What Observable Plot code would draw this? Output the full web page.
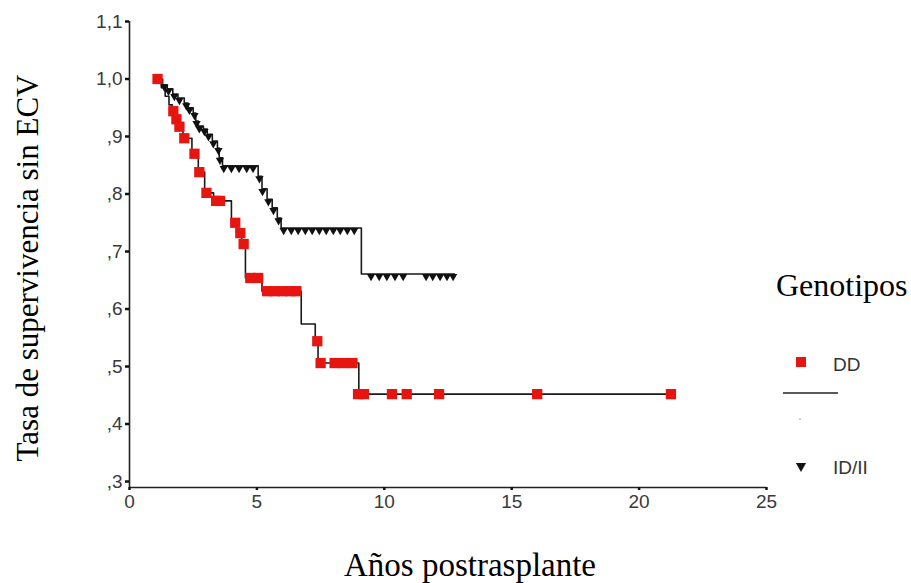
<!DOCTYPE html>
<html>
<head>
<meta charset="utf-8">
<script src="https://cdn.jsdelivr.net/npm/d3@7"></script>
<script src="https://cdn.jsdelivr.net/npm/@observablehq/plot@0.6"></script>
<style>
  html, body { margin: 0; padding: 0; background: #fff; }
  #chart { width: 911px; height: 583px; }
  #chart svg g[aria-label="y-axis tick label"],
  #chart svg g[aria-label="x-axis tick label"] { font-size: 19px; fill: #3a3a3a; }
</style>
</head>
<body>
<div id="chart"></div>
<script>
// ---- Data ----
const genotypes = ["DD", "ID/II"];
const seriesColors = ["#e6150f", "#111111"];

// Kaplan-Meier step curve, DD
const ddStepT = [1.1, 1.25, 1.4, 1.55, 1.68, 1.8, 1.92, 2.1, 2.45, 2.7, 2.95, 3.3, 4.0, 4.2, 4.4, 4.55, 5.2, 6.74, 7.29, 7.4, 9.0, 21.3];
const ddStepS = [1.0, 0.985, 0.97, 0.955, 0.944, 0.930, 0.917, 0.897, 0.870, 0.838, 0.802, 0.788, 0.750, 0.732, 0.713, 0.654, 0.631, 0.574, 0.544, 0.506, 0.452, 0.452];
// DD markers (squares)
const ddMarkT = [1.1, 1.72, 1.84, 1.96, 2.15, 2.55, 2.74, 3.02, 3.4, 3.55, 4.15, 4.35, 4.48, 4.74, 5.05, 5.4, 5.7, 6.0, 6.3, 6.55, 7.37, 7.5, 8.05, 8.4, 8.75, 8.97, 9.2, 10.3, 10.88, 12.15, 16.0, 21.25];
const ddMarkS = [1.0, 0.944, 0.930, 0.917, 0.897, 0.870, 0.838, 0.802, 0.788, 0.788, 0.750, 0.732, 0.713, 0.654, 0.654, 0.631, 0.631, 0.631, 0.631, 0.631, 0.544, 0.506, 0.506, 0.506, 0.506, 0.452, 0.452, 0.452, 0.452, 0.452, 0.452, 0.452];

// Kaplan-Meier step curve, ID/II
const idStepT = [1.1, 1.3, 1.48, 1.7, 1.9, 2.15, 2.3, 2.5, 2.6, 2.7, 2.9, 3.05, 3.25, 3.45, 3.52, 3.65, 5.05, 5.2, 5.4, 5.6, 5.8, 5.95, 9.1, 12.75];
const idStepS = [1.0, 0.99, 0.983, 0.974, 0.967, 0.958, 0.95, 0.941, 0.927, 0.918, 0.913, 0.904, 0.892, 0.88, 0.863, 0.849, 0.831, 0.809, 0.791, 0.776, 0.758, 0.741, 0.661, 0.661];
// ID/II markers (triangles)
const idMarkT = [1.37, 1.53, 1.76, 1.96, 2.23, 2.35, 2.55, 2.63, 2.74, 2.94, 3.1, 3.29, 3.49, 3.55, 3.7, 4.0, 4.3, 4.6, 4.85, 5.1, 5.22, 5.45, 5.65, 5.85, 6.05, 6.35, 6.62, 6.9, 7.17, 7.45, 7.72, 8.0, 8.27, 8.55, 8.82, 9.48, 9.8, 10.1, 10.42, 10.74, 11.64, 11.9, 12.19, 12.46, 12.7];
const idMarkS = [0.99, 0.983, 0.974, 0.967, 0.958, 0.95, 0.941, 0.927, 0.918, 0.913, 0.904, 0.892, 0.88, 0.863, 0.849, 0.849, 0.849, 0.849, 0.849, 0.831, 0.809, 0.791, 0.776, 0.758, 0.741, 0.741, 0.741, 0.741, 0.741, 0.741, 0.741, 0.741, 0.741, 0.741, 0.741, 0.661, 0.661, 0.661, 0.661, 0.661, 0.661, 0.661, 0.661, 0.661, 0.661];

// Axes
const xTicks = [0, 5, 10, 15, 20, 25];
const xTickLabels = ["0", "5", "10", "15", "20", "25"];
const yTicks = [1.1, 1.0, 0.9, 0.8, 0.7, 0.6, 0.5, 0.4, 0.3];
const yTickLabels = ["1,1", "1,0", ",9", ",8", ",7", ",6", ",5", ",4", ",3"];
const xTitle = "Años postrasplante";
const yTitle = "Tasa de supervivencia sin ECV";
const legendTitle = "Genotipos";

// ---- Build tables ----
const zip = (t, s) => t.map((v, i) => ({t: v, s: s[i]}));
const ddStep = zip(ddStepT, ddStepS);
const ddMarks = zip(ddMarkT, ddMarkS);
const idStep = zip(idStepT, idStepS);
const idMarks = zip(idMarkT, idMarkS);

const yMin = 0.2896;
const yFmt = d => yTickLabels[yTicks.findIndex(v => Math.abs(v - d) < 1e-9)];
const xFmt = d => xTickLabels[xTicks.indexOf(d)];

const plot = Plot.plot({
  width: 911,
  height: 583,
  marginLeft: 129,
  marginRight: 145,
  marginTop: 21,
  marginBottom: 96,
  style: {fontFamily: "'Liberation Sans', Arial, sans-serif", background: "#fff"},
  x: {domain: [0, 25]},
  y: {domain: [yMin, 1.1]},
  marks: [
    Plot.ruleX([0], {y1: yMin, y2: 1.1, stroke: "#222", strokeWidth: 1.6}),
    Plot.ruleY([yMin], {x1: 0, x2: 25, stroke: "#222", strokeWidth: 1.6}),
    Plot.axisY({ticks: yTicks, tickFormat: yFmt, tickSize: 4, tickPadding: 3, strokeWidth: 2.5, stroke: "#111", fill: "#3a3a3a", fontSize: 19, label: null}),
    Plot.axisX({ticks: xTicks, tickFormat: xFmt, tickSize: 3, tickPadding: 4, strokeWidth: 2.5, stroke: "#111", fill: "#3a3a3a", fontSize: 19, label: null}),
    Plot.line(idStep, {x: "t", y: "s", curve: "step-after", stroke: "#1a1a1a", strokeWidth: 1.6}),
    Plot.line(ddStep, {x: "t", y: "s", curve: "step-after", stroke: "#1a1a1a", strokeWidth: 1.6}),
    Plot.dot(ddMarks, {x: "t", y: "s", symbol: "square", r: 5.8, fill: seriesColors[0], stroke: "none"}),
    Plot.dot(idMarks, {x: "t", y: "s", symbol: "triangle", rotate: 180, r: 3.1, dy: 2.5, fill: seriesColors[1], stroke: "none"})
  ]
});
document.getElementById("chart").appendChild(plot);

// enlarge tick labels explicitly (in case the axis option is ignored)
d3.select(plot).selectAll('g[aria-label="y-axis tick label"], g[aria-label="x-axis tick label"]')
  .attr("font-size", 19).style("font-size", "19px");

// ---- Titles & legend ----
const svg = d3.select(plot);
const serif = "'Liberation Serif', 'Times New Roman', serif";
svg.append("text")
  .attr("transform", "translate(38,268) rotate(-90)")
  .attr("text-anchor", "middle")
  .attr("font-family", serif).attr("font-size", 31).attr("fill", "#000")
  .text(yTitle);
svg.append("text")
  .attr("x", 470).attr("y", 576)
  .attr("text-anchor", "middle")
  .attr("font-family", serif).attr("font-size", 33).attr("fill", "#000")
  .text(xTitle);
svg.append("text")
  .attr("x", 776).attr("y", 296)
  .attr("text-anchor", "start")
  .attr("font-family", serif).attr("font-size", 32).attr("fill", "#000")
  .text(legendTitle);

const sq = d3.symbol(d3.symbolSquare, 100)();
const tri = d3.symbol(d3.symbolTriangle, 45)();
const lg = svg.append("g").attr("font-family", "'Liberation Sans', Arial, sans-serif").attr("font-size", 19).attr("fill", "#333").attr("text-anchor", "start");
lg.append("path").attr("d", sq).attr("transform", "translate(801,362)").attr("fill", seriesColors[0]);
lg.append("text").attr("x", 833).attr("y", 371).text(genotypes[0]);
lg.append("line").attr("x1", 783).attr("x2", 838).attr("y1", 393).attr("y2", 393).attr("stroke", "#222").attr("stroke-width", 1.5);
lg.append("circle").attr("cx", 800).attr("cy", 419).attr("r", 0.8).attr("fill", "#888");
lg.append("path").attr("d", tri).attr("transform", "translate(801,466) rotate(180)").attr("fill", seriesColors[1]);
lg.append("text").attr("x", 833).attr("y", 474).text(genotypes[1]);
</script>
</body>
</html>
